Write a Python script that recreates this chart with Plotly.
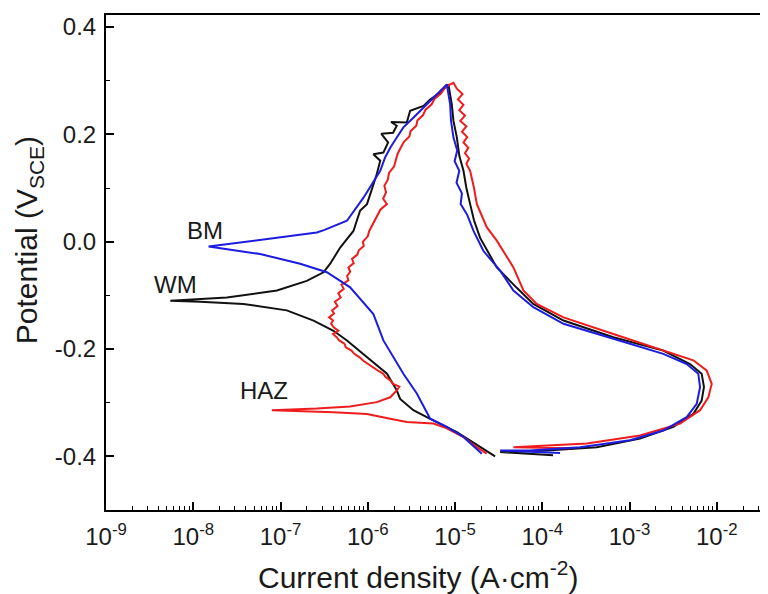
import plotly.graph_objects as go

# ---------------- data ----------------
# WM (black): forward scan from -0.40 V, then reverse scan from +0.30 V
wm_potential = [-0.400, -0.383, -0.355, -0.330, -0.314, -0.293, -0.277, -0.246, -0.215, -0.184,
                -0.166, -0.147, -0.128, -0.116, -0.112, -0.110,
                -0.104, -0.091, -0.073, -0.057, -0.041, -0.011, 0.020, 0.058, 0.070, 0.126,
                0.151, 0.163, 0.166, 0.185, 0.201, 0.203, 0.216, 0.223, 0.222, 0.244,
                0.253, 0.265, 0.278, 0.293,
                0.256, 0.225, 0.194, 0.160, 0.132, 0.100, 0.070, 0.040, 0.007, -0.048, -0.086, -0.116,
                -0.147, -0.178, -0.203, -0.228, -0.246, -0.271, -0.296, -0.321, -0.345, -0.367,
                -0.383, -0.389, -0.392, -0.398]
wm_current = [2.88e-5, 1.94e-5, 1.05e-5, 5.19e-6, 3.33e-6, 2.35e-6, 2.15e-6, 1.66e-6, 9.8e-7, 5.77e-7,
              4.05e-7, 2.39e-7, 1.18e-7, 3.77e-8, 1.2e-8, 5.46e-9,
              2.43e-8, 9.1e-8, 2.0e-7, 3.11e-7, 3.71e-7, 4.83e-7, 6.85e-7, 8.18e-7, 9.8e-7, 1.27e-6,
              1.39e-6, 1.16e-6, 1.51e-6, 1.71e-6, 1.43e-6, 1.95e-6, 2.15e-6, 1.85e-6, 2.8e-6, 3.06e-6,
              4.35e-6, 5.19e-6, 6.74e-6, 8.4e-6,
              9.18e-6, 9.6e-6, 1.05e-5, 1.12e-5, 1.25e-5, 1.35e-5, 1.49e-5, 1.65e-5, 1.94e-5, 3.01e-5, 5.1e-5, 7.9e-5,
              1.75e-4, 6.52e-4, 2.44e-3, 4.93e-3, 6.71e-3, 7.13e-3, 6.71e-3, 5.38e-3, 3.18e-3, 1.32e-3,
              4.21e-4, 1.13e-4, 3.29e-5, 1.33e-4]

# BM (blue)
bm_potential = [-0.395, -0.364, -0.345, -0.330, -0.283, -0.246, -0.184, -0.135, -0.085, -0.057,
                -0.041, -0.023, -0.009,
                0.008, 0.012, 0.017, 0.022, 0.039, 0.082, 0.113, 0.132, 0.157, 0.175, 0.194, 0.213,
                0.231, 0.250, 0.268, 0.281, 0.293,
                0.256, 0.225, 0.194, 0.170, 0.150, 0.132, 0.110, 0.090, 0.070, 0.050, 0.020, -0.017,
                -0.054, -0.091, -0.122, -0.153, -0.181, -0.209, -0.228, -0.246, -0.271, -0.302,
                -0.327, -0.352, -0.370, -0.383, -0.389, -0.389, -0.394]
bm_current = [2.03e-5, 1.25e-5, 8.05e-6, 5.19e-6, 3.65e-6, 2.56e-6, 1.51e-6, 1.16e-6, 6.28e-7, 3.4e-7,
              1.68e-7, 5.85e-8, 1.5e-8,
              9.93e-8, 1.6e-7, 2.61e-7, 3.2e-7, 5.77e-7, 8.93e-7, 1.16e-6, 1.39e-6, 1.58e-6, 1.81e-6, 2.15e-6, 2.56e-6,
              3.33e-6, 4.35e-6, 5.66e-6, 6.74e-6, 8.05e-6,
              8.79e-6, 9.0e-6, 9.6e-6, 1.06e-5, 9.9e-6, 1.12e-5, 1.04e-5, 1.2e-5, 1.16e-5, 1.38e-5, 1.63e-5, 2.11e-5,
              3.29e-5, 4.67e-5, 7.9e-5, 1.75e-4, 6.52e-4, 2.44e-3, 4.52e-3, 6.14e-3, 6.43e-3, 5.89e-3,
              4.52e-3, 2.44e-3, 1.01e-3, 2.71e-4, 7.24e-5, 3.29e-5, 1.6e-4]

# HAZ (red)
haz_potential = [-0.395, -0.383, -0.364, -0.348, -0.339, -0.336, -0.330, -0.321, -0.318, -0.314,
                 -0.311, -0.307, -0.299, -0.290, -0.277, -0.270, -0.265, -0.258, -0.252, -0.246,
                 -0.240, -0.234, -0.228, -0.222, -0.215, -0.209, -0.203, -0.197, -0.190, -0.184,
                 -0.178, -0.172, -0.166, -0.160, -0.153, -0.147, -0.141, -0.134, -0.128, -0.120,
                 -0.112, -0.104, -0.096, -0.088, -0.080, -0.072, -0.064, -0.056, -0.048, -0.040,
                 -0.032, -0.024, -0.016, -0.008, 0.000, 0.010, 0.020, 0.030, 0.040, 0.050,
                 0.060, 0.070, 0.080, 0.092, 0.104, 0.116, 0.128, 0.140, 0.152, 0.164,
                 0.176, 0.186, 0.196, 0.206, 0.216, 0.226, 0.236, 0.246, 0.256, 0.266,
                 0.276, 0.286, 0.293, 0.296,
                 0.285, 0.275, 0.265, 0.255, 0.245, 0.235, 0.225, 0.215, 0.205, 0.195, 0.185,
                 0.175, 0.165, 0.155, 0.145, 0.132, 0.100, 0.070, 0.027, 0.002, -0.048, -0.091,
                 -0.116, -0.141, -0.172, -0.203, -0.221, -0.240, -0.265, -0.290, -0.314, -0.339,
                 -0.361, -0.376, -0.380, -0.383, -0.385]
haz_current = [2.31e-5, 1.78e-5, 1.25e-5, 8.05e-6, 5.66e-6, 2.8e-6, 1.81e-6, 9.8e-7, 4.05e-7, 7.96e-8,
               2.61e-7, 6.28e-7, 1.27e-6, 1.81e-6, 2.15e-6, 2.3e-6, 1.95e-6, 1.8e-6, 1.6e-6, 1.5e-6,
               1.3e-6, 1.15e-6, 1.0e-6, 8.9e-7, 8.0e-7, 7.0e-7, 6.5e-7, 5.6e-7, 5.4e-7, 4.7e-7,
               4.4e-7, 4.0e-7, 4.6e-7, 4.1e-7, 3.8e-7, 4.0e-7, 3.6e-7, 4.1e-7, 3.9e-7, 4.5e-7,
               4.2e-7, 4.9e-7, 4.6e-7, 5.3e-7, 5.0e-7, 6.0e-7, 5.8e-7, 6.3e-7, 6.0e-7, 6.9e-7,
               6.6e-7, 7.6e-7, 7.9e-7, 9.0e-7, 8.8e-7, 1.0e-6, 1.04e-6, 1.12e-6, 1.2e-6, 1.32e-6,
               1.4e-6, 1.66e-6, 1.5e-6, 1.62e-6, 1.55e-6, 1.7e-6, 1.75e-6, 2.0e-6, 2.1e-6, 2.2e-6,
               2.4e-6, 2.6e-6, 3.0e-6, 3.1e-6, 3.6e-6, 3.7e-6, 4.3e-6, 4.6e-6, 5.4e-6, 5.8e-6,
               6.9e-6, 7.6e-6, 8.79e-6, 9.6e-6,
               1.05e-5, 1.22e-5, 1.08e-5, 1.25e-5, 1.12e-5, 1.3e-5, 1.15e-5, 1.35e-5, 1.2e-5, 1.38e-5, 1.25e-5,
               1.42e-5, 1.3e-5, 1.45e-5, 1.35e-5, 1.49e-5, 1.65e-5, 1.78e-5, 2.31e-5, 3.01e-5, 4.67e-5, 6.08e-5,
               8.65e-5, 1.75e-4, 6.52e-4, 2.44e-3, 5.38e-3, 7.65e-3, 8.75e-3, 8.0e-3, 6.43e-3, 3.79e-3,
               1.32e-3, 3.24e-4, 1.13e-4, 4.67e-5, 2.08e-4]

# labels of the curves (x in log10 units, y in V)
label_text = ["BM", "WM", "HAZ"]
label_log_x = [-7.86, -8.20, -7.19]
label_y = [0.020, -0.080, -0.278]

# axis ticks
x_tick_exponents = [-9, -8, -7, -6, -5, -4, -3, -2]
x_tick_values = [10.0 ** e for e in x_tick_exponents]
x_tick_text = ["10<sup>%d</sup>" % e for e in x_tick_exponents]
x_minor_values = [m * 10.0 ** e for e in range(-9, -1) for m in range(2, 10)]
y_tick_values = [-0.4, -0.2, 0.0, 0.2, 0.4]
y_tick_text = ["-0.4", "-0.2", "0.0", "0.2", "0.4"]

# ---------------- figure ----------------
FONT = "Liberation Sans, Arial, sans-serif"
TXT = "#1a1a1a"

fig = go.Figure()
for cur, pot, col in [(wm_current, wm_potential, "#111111"),
                      (haz_current, haz_potential, "#ee1c1c"),
                      (bm_current, bm_potential, "#1c1ce0")]:
    fig.add_trace(go.Scatter(x=cur, y=pot, mode="lines",
                             line=dict(color=col, width=2), showlegend=False))

for t, lx, ly in zip(label_text, label_log_x, label_y):
    fig.add_annotation(x=lx, y=ly, xref="x", yref="y", text=t, showarrow=False,
                       font=dict(family=FONT, size=24, color=TXT))

fig.add_annotation(x=0.472, y=-0.131, xref="paper", yref="paper",
                   text="Current density (A·cm<sup>-2</sup>)", showarrow=False,
                   font=dict(family=FONT, size=30, color=TXT), yanchor="middle")
fig.add_annotation(x=-0.116, y=0.5455, xref="paper", yref="paper",
                   text="Potential (V<sub>SCE</sub>)", showarrow=False, textangle=-90,
                   font=dict(family=FONT, size=30, color=TXT), xanchor="center")

# the page body adds an 8 px offset, so the figure is 760x586 to fill the 768x594 window
fig.update_layout(
    width=760, height=586,
    margin=dict(l=98, r=0, t=7, b=84),
    paper_bgcolor="white", plot_bgcolor="white",
    font=dict(family=FONT, size=24, color=TXT),
)
fig.update_xaxes(type="log", range=[-9, -1.413],
                 tickmode="array", tickvals=x_tick_values, ticktext=x_tick_text,
                 ticks="inside", ticklen=8, tickwidth=1.5, tickcolor="black",
                 ticklabelstandoff=4,
                 minor=dict(tickmode="array", tickvals=x_minor_values, ticks="inside",
                            ticklen=4, tickwidth=1, tickcolor="black", showgrid=False),
                 showline=True, linecolor="black", linewidth=2, mirror=True,
                 showgrid=False, zeroline=False,
                 tickfont=dict(family=FONT, size=24, color=TXT))
fig.update_yaxes(range=[-0.5, 0.4224],
                 tickmode="array", tickvals=y_tick_values, ticktext=y_tick_text,
                 ticks="inside", ticklen=8, tickwidth=1.5, tickcolor="black",
                 ticklabelstandoff=3,
                 minor=dict(dtick=0.1, ticks="inside", ticklen=4, tickwidth=1,
                            tickcolor="black", showgrid=False),
                 showline=True, linecolor="black", linewidth=2, mirror=False,
                 showgrid=False, zeroline=False,
                 tickfont=dict(family=FONT, size=24, color=TXT))

fig.write_html("out.html")
